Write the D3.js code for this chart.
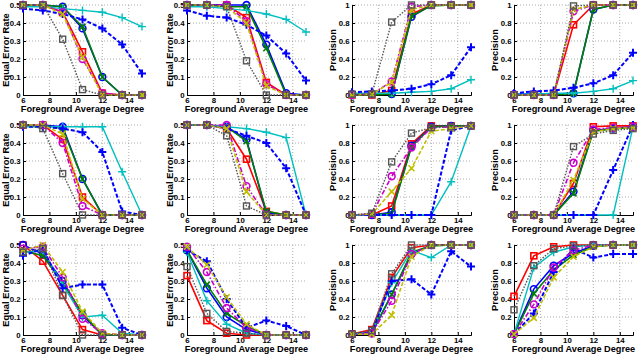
<!DOCTYPE html>
<html>
<head>
<meta charset="utf-8">
<script src="https://cdn.jsdelivr.net/npm/d3@7"></script>
<style>
  body { margin: 0; background: #fff; }
  text { font-family: "Liberation Sans", Arial, sans-serif; font-weight: bold; }
</style>
</head>
<body>
<div id="chart"></div>
<script>
// x values shared by every panel
const degrees = [6, 7.5, 9, 10.5, 12, 13.5, 15];
const xTicks = [6, 8, 10, 12, 14];
const eerTicks = [0, 0.1, 0.2, 0.3, 0.4, 0.5];
const precTicks = [0, 0.2, 0.4, 0.6, 0.8, 1];

// series order in each panel: red, green, blue, cyan, blue dashed, magenta, yellow, gray
const seriesNames = ["red", "green", "blue", "cyan", "blueDash", "magenta", "yellow", "gray"];
// drawing order (later on top)
const drawOrder = [0, 2, 1, 3, 4, 5, 6, 7];

// row 1
const eer11 = [
  [0.5, 0.5, 0.46, 0.24, 0.01, 0, 0],
  [0.5, 0.5, 0.49, 0.38, 0.1, 0, 0],
  [0.5, 0.5, 0.49, 0.37, 0.1, 0, 0],
  [0.49, 0.49, 0.48, 0.47, 0.46, 0.43, 0.38],
  [0.48, 0.47, 0.45, 0.42, 0.37, 0.28, 0.12],
  [0.5, 0.5, 0.46, 0.2, 0.01, 0, 0],
  [0.5, 0.5, 0.45, 0.21, 0, 0, 0],
  [0.5, 0.5, 0.31, 0.03, 0, 0, 0]
];
const eer12 = [
  [0.5, 0.5, 0.5, 0.43, 0.07, 0, 0],
  [0.5, 0.5, 0.49, 0.49, 0.26, 0, 0],
  [0.5, 0.5, 0.5, 0.5, 0.28, 0.01, 0],
  [0.49, 0.49, 0.48, 0.47, 0.45, 0.42, 0.35],
  [0.47, 0.44, 0.43, 0.39, 0.33, 0.23, 0.08],
  [0.5, 0.5, 0.5, 0.41, 0.06, 0, 0],
  [0.5, 0.5, 0.49, 0.4, 0.05, 0, 0],
  [0.5, 0.5, 0.49, 0.19, 0, 0, 0]
];
const prec13 = [
  [0, 0, 0.05, 0.9, 1, 1, 1],
  [0, 0, 0.01, 0.88, 0.99, 1, 1],
  [0.01, 0.01, 0.01, 0.87, 1, 1, 1],
  [0.02, 0.02, 0.02, 0.03, 0.04, 0.07, 0.17],
  [0.03, 0.04, 0.05, 0.07, 0.12, 0.22, 0.53],
  [0, 0.01, 0.15, 0.98, 1, 1, 1],
  [0, 0.01, 0.14, 0.95, 1, 1, 1],
  [0.01, 0.01, 0.81, 1, 1, 1, 1]
];
const prec14 = [
  [0, 0, 0, 0.78, 1, 1, 1],
  [0, 0, 0, 0.02, 0.95, 1, 1],
  [0.01, 0.01, 0.01, 0.02, 0.95, 1, 1],
  [0.01, 0.01, 0.02, 0.02, 0.04, 0.07, 0.16],
  [0.02, 0.04, 0.05, 0.08, 0.13, 0.22, 0.47],
  [0, 0, 0, 0.93, 1, 1, 1],
  [0, 0, 0, 0.95, 1, 1, 1],
  [0, 0, 0, 0.99, 1, 1, 1]
];
// row 2
const eer21 = [
  [0.5, 0.5, 0.42, 0.1, 0, 0, 0],
  [0.5, 0.5, 0.48, 0.2, 0, 0, 0],
  [0.5, 0.5, 0.49, 0.2, 0, 0, 0],
  [0.49, 0.49, 0.49, 0.49, 0.49, 0.24, 0],
  [0.49, 0.49, 0.48, 0.46, 0.35, 0.02, 0],
  [0.5, 0.5, 0.4, 0.05, 0, 0, 0],
  [0.5, 0.5, 0.45, 0.09, 0, 0, 0],
  [0.5, 0.48, 0.23, 0, 0, 0, 0]
];
const eer22 = [
  [0.5, 0.5, 0.48, 0.31, 0.02, 0, 0],
  [0.5, 0.5, 0.49, 0.41, 0.02, 0, 0],
  [0.5, 0.5, 0.49, 0.42, 0.01, 0, 0],
  [0.5, 0.5, 0.49, 0.48, 0.46, 0.43, 0],
  [0.5, 0.5, 0.48, 0.44, 0.4, 0.26, 0],
  [0.5, 0.5, 0.5, 0.16, 0, 0, 0],
  [0.5, 0.5, 0.48, 0.13, 0, 0, 0],
  [0.5, 0.5, 0.44, 0.05, 0, 0, 0]
];
const prec23 = [
  [0, 0, 0.1, 0.79, 0.99, 0.99, 0.99],
  [0, 0, 0.02, 0.76, 0.98, 0.99, 0.99],
  [0, 0, 0.03, 0.77, 0.98, 0.99, 0.99],
  [0, 0, 0, 0, 0, 0.37, 0.99],
  [0, 0, 0, 0, 0, 0.94, 0.99],
  [0, 0.01, 0.43, 0.75, 0.97, 0.98, 0.99],
  [0, 0.01, 0.26, 0.52, 0.93, 0.96, 0.99],
  [0, 0.02, 0.59, 0.91, 0.97, 0.98, 0.99]
];
const prec24 = [
  [0, 0, 0, 0.35, 0.98, 0.99, 0.99],
  [0, 0, 0, 0.24, 0.93, 0.96, 0.97],
  [0, 0, 0, 0.26, 0.94, 0.96, 0.98],
  [0, 0, 0, 0, 0, 0, 0.98],
  [0, 0, 0, 0, 0, 0.5, 1],
  [0, 0, 0, 0.58, 0.95, 0.97, 0.98],
  [0, 0, 0, 0.39, 0.92, 0.96, 0.97],
  [0, 0, 0, 0.76, 0.9, 0.94, 0.96]
];
// row 3
const eer31 = [
  [0.5, 0.41, 0.22, 0.03, 0, 0, 0],
  [0.47, 0.44, 0.29, 0.12, 0, 0, 0],
  [0.5, 0.45, 0.3, 0.11, 0, 0, 0],
  [0.46, 0.47, 0.28, 0.1, 0.11, 0.01, 0],
  [0.44, 0.48, 0.26, 0.28, 0.28, 0.04, 0],
  [0.48, 0.49, 0.32, 0.09, 0.01, 0, 0],
  [0.47, 0.5, 0.35, 0.13, 0.01, 0, 0],
  [0.46, 0.48, 0.22, 0, 0, 0, 0]
];
const eer32 = [
  [0.33, 0.08, 0.01, 0, 0, 0, 0],
  [0.47, 0.28, 0.12, 0.05, 0, 0, 0],
  [0.47, 0.26, 0.1, 0.03, 0, 0, 0],
  [0.46, 0.19, 0.06, 0.01, 0, 0, 0],
  [0.47, 0.41, 0.2, 0.04, 0.08, 0.05, 0],
  [0.49, 0.35, 0.15, 0.04, 0, 0, 0],
  [0.49, 0.39, 0.21, 0.06, 0, 0, 0],
  [0.38, 0.12, 0.02, 0.01, 0, 0, 0]
];
const prec33 = [
  [0.01, 0.06, 0.64, 0.97, 1, 1, 1],
  [0.01, 0.03, 0.45, 0.92, 0.99, 1, 1],
  [0.01, 0.02, 0.45, 0.9, 1, 1, 1],
  [0.01, 0.03, 0.58, 0.94, 0.86, 1, 1],
  [0.01, 0.03, 0.6, 0.62, 0.45, 0.93, 0.76],
  [0.01, 0.02, 0.38, 0.9, 1, 1, 1],
  [0.01, 0.01, 0.22, 0.87, 1, 1, 1],
  [0.01, 0.05, 0.68, 1, 1, 1, 1]
];
const prec34 = [
  [0.43, 0.88, 0.98, 1, 1, 1, 1],
  [0.01, 0.46, 0.72, 0.89, 0.98, 1, 1],
  [0.01, 0.51, 0.77, 0.91, 0.99, 1, 1],
  [0.01, 0.75, 0.92, 0.98, 1, 1, 1],
  [0.01, 0.24, 0.7, 0.96, 0.86, 0.9, 0.9],
  [0.01, 0.34, 0.75, 0.94, 1, 1, 1],
  [0.01, 0.19, 0.64, 0.87, 0.98, 1, 1],
  [0.28, 0.77, 0.96, 0.99, 1, 1, 1]
];

const panelRows = [
  [eer11, eer12, prec13, prec14],
  [eer21, eer22, prec23, prec24],
  [eer31, eer32, prec33, prec34]
];

// styles per series
const styles = {
  red:      {color: "#ff0000", dash: null,        width: 1.6, marker: "square"},
  green:    {color: "#008000", dash: null,        width: 1.6, marker: "x"},
  blue:     {color: "#0000ff", dash: null,        width: 1.6, marker: "circle"},
  cyan:     {color: "#00bfbf", dash: null,        width: 1.4, marker: "plus"},
  blueDash: {color: "#0000ff", dash: "4,2",       width: 2,   marker: "plus"},
  magenta:  {color: "#cc00cc", dash: "5,2,1.5,2", width: 1.6, marker: "circle"},
  yellow:   {color: "#bfbf00", dash: "4,2",       width: 1.6, marker: "x"},
  gray:     {color: "#555555", dash: "1.5,1.5",   width: 1.4, marker: "square"}
};

const colLeft = [23, 187, 352, 514];
const rowTop = [5, 125, 245];
const plotW = 119, plotH = 90;

const svg = d3.select("#chart")
  .append("svg")
  .attr("width", 640)
  .attr("height", 356);

function drawMarker(g, type, x, y, color, lw) {
  const s = 3;
  if (type === "square") {
    g.append("rect").attr("x", x - s).attr("y", y - s).attr("width", 2 * s).attr("height", 2 * s)
      .attr("fill", "none").attr("stroke", color).attr("stroke-width", lw);
  } else if (type === "circle") {
    g.append("circle").attr("cx", x).attr("cy", y).attr("r", 3.4)
      .attr("fill", "none").attr("stroke", color).attr("stroke-width", lw);
  } else if (type === "plus") {
    g.append("path").attr("d", `M${x - 4},${y}H${x + 4}M${x},${y - 4}V${y + 4}`)
      .attr("stroke", color).attr("stroke-width", lw);
  } else {
    g.append("path").attr("d", `M${x - 3},${y - 3}L${x + 3},${y + 3}M${x - 3},${y + 3}L${x + 3},${y - 3}`)
      .attr("stroke", color).attr("stroke-width", lw);
  }
}

panelRows.forEach((row, r) => {
  row.forEach((data, c) => {
    const isEer = c < 2;
    const g = svg.append("g").attr("transform", `translate(${colLeft[c]},${rowTop[r]})`);
    const x = d3.scaleLinear().domain([6, 15]).range([0, plotW]);
    const y = d3.scaleLinear().domain(isEer ? [0, 0.5] : [0, 1]).range([plotH, 0]);
    const yTicks = isEer ? eerTicks : precTicks;

    // dotted grid
    g.append("g").selectAll("line").data(xTicks.slice(1)).enter().append("line")
      .attr("x1", d => x(d)).attr("x2", d => x(d)).attr("y1", 0).attr("y2", plotH)
      .attr("stroke", "#999").attr("stroke-width", 0.8).attr("stroke-dasharray", "1,2");
    g.append("g").selectAll("line").data(yTicks.slice(1)).enter().append("line")
      .attr("x1", 0).attr("x2", plotW).attr("y1", d => y(d)).attr("y2", d => y(d))
      .attr("stroke", "#999").attr("stroke-width", 0.8).attr("stroke-dasharray", "1,2");

    // axes
    const xAxis = g.append("g").attr("transform", `translate(0,${plotH})`)
      .call(d3.axisBottom(x).tickValues(xTicks).tickSize(-3).tickPadding(2).tickFormat(d => d));
    const yAxis = g.append("g")
      .call(d3.axisLeft(y).tickValues(yTicks).tickSize(-3).tickPadding(2.5).tickFormat(d => d));
    [xAxis, yAxis].forEach(a => {
      a.selectAll(".domain").attr("stroke", "#000").attr("stroke-width", 1);
      a.selectAll(".tick line").attr("stroke", "#000");
      a.selectAll("text").attr("font-size", 7.8).attr("fill", "#000")
        .style("font-family", "'Liberation Sans', Arial, sans-serif").style("font-weight", "bold");
    });

    g.append("text").attr("x", plotW / 2).attr("y", plotH + 16.5)
      .attr("text-anchor", "middle").attr("font-size", 9.2).text("Foreground Average Degree");
    g.append("text")
      .attr("transform", `translate(${isEer ? -14.5 : -16},${plotH / 2}) rotate(-90)`)
      .attr("text-anchor", "middle").attr("font-size", 9.3)
      .text(isEer ? "Equal Error Rate" : "Precision");

    // series
    const line = d3.line().x((d, i) => x(degrees[i])).y(d => y(d));
    drawOrder.forEach(si => {
      const vals = data[si];
      const st = styles[seriesNames[si]];
      g.append("path").attr("d", line(vals)).attr("fill", "none")
        .attr("stroke", st.color).attr("stroke-width", st.width)
        .attr("stroke-dasharray", st.dash);
      const mg = g.append("g");
      vals.forEach((v, i) => drawMarker(mg, st.marker, x(degrees[i]), y(v), st.color, st.width));
    });
  });
});
</script>
</body>
</html>
